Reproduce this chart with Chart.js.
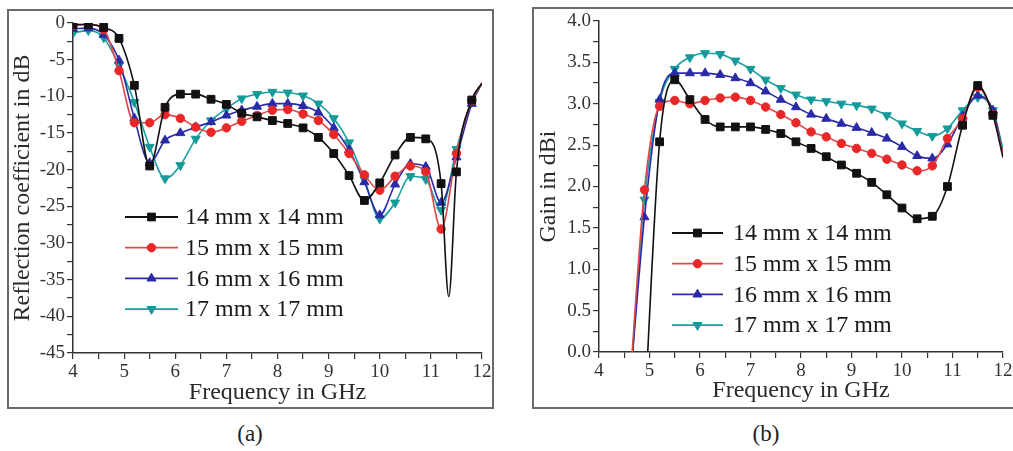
<!DOCTYPE html>
<html>
<head>
<meta charset="utf-8">
<script src="https://cdn.jsdelivr.net/npm/chart.js@4.4.0/dist/chart.umd.min.js"></script>
<style>
  html, body { margin: 0; padding: 0; background: #fff; width: 1013px; height: 451px; overflow: hidden; position: relative; }
  .frame { position: absolute; border: 2px solid #6a6a6a; box-sizing: border-box; }
  canvas { position: absolute; top: 0; }
  .cap { position: absolute; top: 421px; font-family: "Liberation Serif", serif; font-size: 23px; color: #222; transform: translateX(-50%); }
</style>
</head>
<body>
<div class="frame" style="left:7px;top:9px;width:487px;height:400px"></div>
<div class="frame" style="left:532px;top:7px;width:500px;height:402px"></div>
<canvas id="chartA" width="500" height="412" style="left:0"></canvas>
<canvas id="chartB" width="500" height="412" style="left:520px"></canvas>
<div class="cap" style="left:250px">(a)</div>
<div class="cap" style="left:766px">(b)</div>
<script>
// series names
const sizes = ['14 mm x 14 mm', '15 mm x 15 mm', '16 mm x 16 mm', '17 mm x 17 mm'];

// (a) reflection coefficient, dB
const freqA = [4.0, 4.3, 4.6, 4.9, 5.2, 5.5, 5.8, 6.1, 6.4, 6.7, 7.0, 7.3, 7.6, 7.9,
  8.2, 8.5, 8.8, 9.1, 9.4, 9.7, 10.0, 10.3, 10.6, 10.9, 11.2, 11.5, 11.8, 12.0];
const freqA14 = [4.0, 4.3, 4.6, 4.9, 5.2, 5.5, 5.8, 6.1, 6.4, 6.7, 7.0, 7.3, 7.6, 7.9,
  8.2, 8.5, 8.8, 9.1, 9.4, 9.7, 10.0, 10.3, 10.6, 10.9, 11.2, 11.35, 11.5, 11.8, 12.0];
const s11_14 = [-0.2, -0.2, -0.6, -2.1, -8.5, -19.5, -11.5, -9.7, -9.7, -10.4, -11.1, -12.3, -12.8, -13.3,
  -13.7, -14.3, -15.6, -17.8, -20.8, -24.2, -21.8, -18.0, -15.6, -15.8, -21.9, -37.3, -20.3, -10.5, -8.2];
const s11_15 = [-0.3, -0.2, -0.9, -6.5, -13.6, -13.6, -12.5, -13.0, -14.2, -14.9, -14.3, -13.4, -12.6, -11.9,
  -11.8, -12.4, -13.3, -15.2, -17.8, -20.7, -22.8, -20.9, -19.5, -20.3, -28.1, -17.8, -10.6, -8.2];
const s11_16 = [-0.8, -0.7, -1.6, -5.1, -13.0, -19.1, -16.0, -15.0, -14.2, -13.5, -12.6, -11.9, -11.4, -11.0,
  -11.0, -11.3, -12.2, -14.3, -17.3, -21.7, -26.2, -22.0, -19.2, -19.6, -24.5, -18.3, -11.0, -8.2];
const s11_17 = [-1.4, -1.0, -2.0, -5.8, -10.8, -16.9, -21.2, -19.4, -15.8, -13.3, -11.7, -10.3, -9.7, -9.4,
  -9.5, -9.9, -11.0, -13.0, -16.3, -21.3, -26.7, -24.5, -20.9, -21.3, -25.5, -17.2, -10.8, -8.2];

// (b) gain, dBi
const freqB = [4.6, 4.9, 5.2, 5.5, 5.8, 6.1, 6.4, 6.7, 7.0, 7.3, 7.6, 7.9, 8.2,
  8.5, 8.8, 9.1, 9.4, 9.7, 10.0, 10.3, 10.6, 10.9, 11.2, 11.5, 11.8, 12.0];
const gain14 = [null, -0.77, 2.54, 3.29, 3.05, 2.81, 2.72, 2.72, 2.72, 2.69, 2.64, 2.54, 2.46,
  2.36, 2.26, 2.16, 2.05, 1.90, 1.74, 1.61, 1.64, 2.00, 2.74, 3.22, 2.86, 2.35];
const gain15 = [-0.49, 1.96, 2.97, 3.04, 3.00, 3.04, 3.07, 3.08, 3.04, 2.96, 2.87, 2.77, 2.66,
  2.60, 2.52, 2.46, 2.40, 2.33, 2.26, 2.19, 2.25, 2.58, 2.82, 3.20, 2.87, 2.40];
const gain16 = [-0.50, 1.63, 3.05, 3.37, 3.37, 3.37, 3.35, 3.31, 3.25, 3.15, 3.05, 2.96, 2.87,
  2.82, 2.76, 2.71, 2.65, 2.58, 2.48, 2.37, 2.34, 2.51, 2.85, 3.10, 2.92, 2.40];
const gain17 = [-0.56, 1.84, 3.02, 3.42, 3.56, 3.61, 3.60, 3.52, 3.42, 3.29, 3.19, 3.11, 3.05,
  3.03, 3.00, 2.98, 2.94, 2.86, 2.76, 2.67, 2.61, 2.70, 2.92, 3.08, 2.92, 2.45];

const styles = [
  { line: '#111111', fill: '#111111', point: 'rect', radius: 5.5, rotation: 0 },
  { line: '#e04848', fill: '#e82828', point: 'circle', radius: 4.2, rotation: 0 },
  { line: '#2a2aa8', fill: '#2a2aa8', point: 'triangle', radius: 5.2, rotation: 0 },
  { line: '#17a0a0', fill: '#159a9a', point: 'triangle', radius: 5.2, rotation: 180 }
];

Chart.defaults.font.family = '"Liberation Serif", "Times New Roman", serif';
Chart.defaults.color = '#2a2a2a';

// markers sit on the 0.3 GHz grid only
function onGrid(x) {
  const k = (x - 4) / 0.3;
  return x < 12 && Math.abs(k - Math.round(k)) < 1e-6;
}

function makeDataset(i, xs, ys) {
  const s = styles[i];
  return {
    label: sizes[i],
    data: xs.map((x, j) => ({ x: x, y: ys[j] })),
    borderColor: s.line,
    borderWidth: 1.6,
    pointBackgroundColor: s.fill,
    pointBorderColor: s.fill,
    pointBorderWidth: 1,
    pointStyle: s.point,
    pointRotation: s.rotation,
    pointRadius: ctx => onGrid(ctx.raw.x) ? s.radius : 0,
    legendRadius: s.radius,
    cubicInterpolationMode: 'monotone'
  };
}

// legend drawn inside the plot, like the original figure
const insideLegend = {
  id: 'insideLegend',
  afterDatasetsDraw(chart, args, opts) {
    const ctx = chart.ctx;
    ctx.save();
    chart.data.datasets.forEach((ds, i) => {
      const y = opts.y + i * opts.step;
      ctx.strokeStyle = ds.borderColor;
      ctx.lineWidth = 1.8;
      ctx.beginPath();
      ctx.moveTo(opts.x, y);
      ctx.lineTo(opts.x + opts.len, y);
      ctx.stroke();
      ctx.fillStyle = ds.pointBackgroundColor;
      ctx.strokeStyle = ds.pointBorderColor;
      ctx.lineWidth = 1;
      Chart.helpers.drawPoint(ctx, {
        pointStyle: ds.pointStyle, radius: ds.legendRadius,
        rotation: ds.pointRotation, borderWidth: 1
      }, opts.x + opts.len / 2, y);
      ctx.fillStyle = '#1a1a1a';
      ctx.font = '24px "Liberation Serif"';
      ctx.textAlign = 'left';
      ctx.textBaseline = 'middle';
      ctx.fillText(ds.label, opts.textX, y + 1);
    });
    ctx.restore();
  }
};

function axisBase() {
  return {
    type: 'linear',
    grid: { drawOnChartArea: false, drawTicks: true, tickLength: 6, color: '#333', lineWidth: 1.2 },
    border: { display: true, color: '#333', width: 1.5 },
    ticks: { autoSkip: false, maxRotation: 0, padding: 2, font: { size: 19 }, color: '#333' }
  };
}

function freqAxis(height) {
  const ax = axisBase();
  ax.min = 4;
  ax.max = 12;
  ax.ticks.stepSize = 0.5;
  ax.ticks.callback = v => Number.isInteger(v) ? v : '';
  ax.title = { display: true, text: 'Frequency in GHz', font: { size: 24 }, padding: 0, color: '#2a2a2a' };
  ax.afterFit = s => { s.height = height; };
  return ax;
}

// (a)
const axA = axisBase();
axA.min = -45;
axA.max = 0;
axA.ticks.stepSize = 2.5;
axA.ticks.callback = v => (v % 5 === 0) ? v : '';
axA.title = { display: true, text: 'Reflection coefficient in dB', font: { size: 24 }, padding: 0, color: '#2a2a2a' };
axA.afterFit = s => { s.width = 65; };

new Chart(document.getElementById('chartA'), {
  type: 'line',
  data: {
    datasets: [
      makeDataset(0, freqA14, s11_14),
      makeDataset(1, freqA, s11_15),
      makeDataset(2, freqA, s11_16),
      makeDataset(3, freqA, s11_17)
    ]
  },
  options: {
    responsive: false,
    animation: false,
    layout: { padding: { left: 8, top: 23, right: 18, bottom: 5 } },
    scales: { x: freqAxis(54), y: axA },
    plugins: {
      legend: { display: false },
      tooltip: { enabled: false },
      insideLegend: { x: 125, y: 217, step: 30.7, len: 53, textX: 185 }
    }
  },
  plugins: [insideLegend]
});

// (b)
const axB = axisBase();
axB.min = 0;
axB.max = 4;
axB.ticks.stepSize = 0.25;
axB.ticks.callback = v => (Math.abs(v * 2 - Math.round(v * 2)) < 1e-9) ? v.toFixed(1) : '';
axB.title = { display: true, text: 'Gain in dBi', font: { size: 24 }, padding: 0, color: '#2a2a2a' };
axB.afterFit = s => { s.width = 65; };

new Chart(document.getElementById('chartB'), {
  type: 'line',
  data: {
    datasets: [
      makeDataset(0, freqB, gain14),
      makeDataset(1, freqB, gain15),
      makeDataset(2, freqB, gain16),
      makeDataset(3, freqB, gain17)
    ]
  },
  options: {
    responsive: false,
    animation: false,
    layout: { padding: { left: 14, top: 21, right: 17, bottom: 7 } },
    scales: { x: freqAxis(53), y: axB },
    plugins: {
      legend: { display: false },
      tooltip: { enabled: false },
      insideLegend: { x: 152, y: 233, step: 30.7, len: 51, textX: 213 }
    }
  },
  plugins: [insideLegend]
});
</script>
</body>
</html>
